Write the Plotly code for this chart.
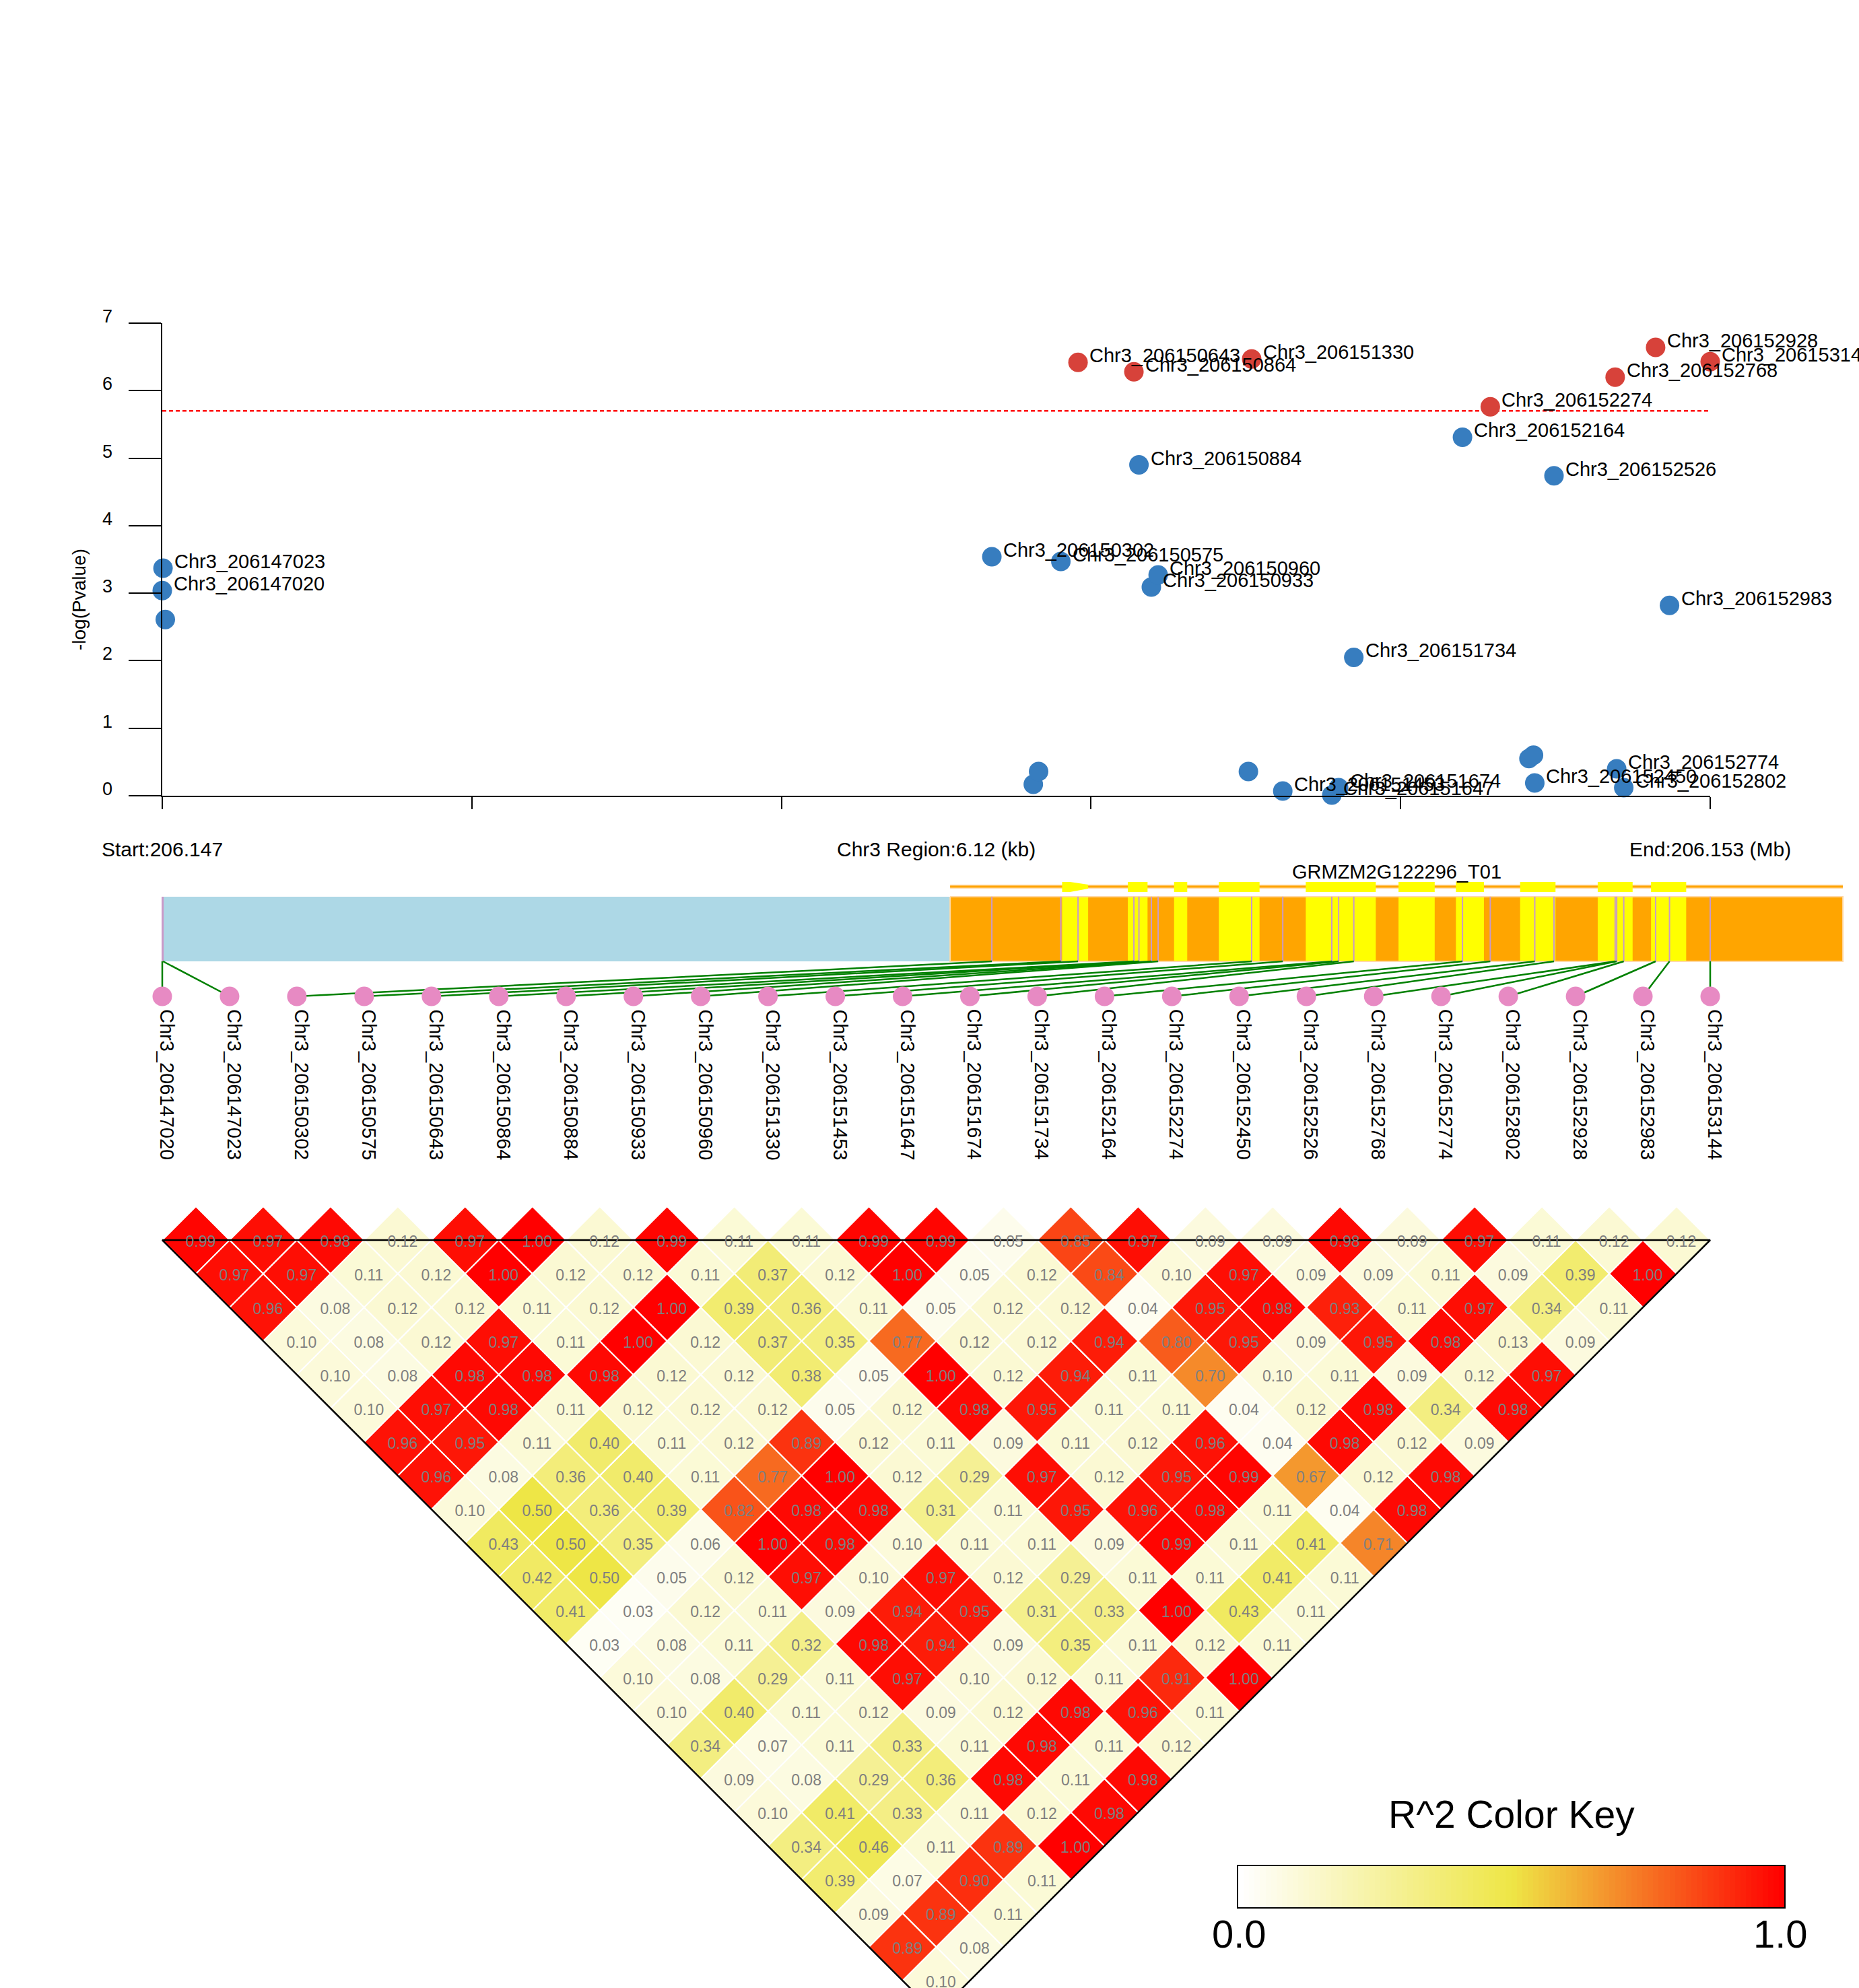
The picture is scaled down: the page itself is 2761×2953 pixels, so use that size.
import numpy as np
import plotly.graph_objects as go
from plotly.colors import sample_colorscale

W, H = 2761, 2953
FONT = "Liberation Sans, Arial, Helvetica, sans-serif"

# ---------------- data ----------------
CHROM = "Chr3"
REGION_START = 206147020
REGION_END = 206153144

GENE_NAME = "GRMZM2G122296_T01"
GENE_START = 206150137
GENE_END = 206153669
EXON_START = [206150580, 206150840, 206151023, 206151200, 206151544,
              206151911, 206152138, 206152392, 206152699, 206152910]
EXON_END = [206150683, 206150918, 206151075, 206151361, 206151821,
            206152054, 206152249, 206152532, 206152837, 206153049]

SNP_POS = [206147020, 206147023, 206150302, 206150575, 206150643, 206150864,
           206150884, 206150933, 206150960, 206151330, 206151453, 206151647,
           206151674, 206151734, 206152164, 206152274, 206152450, 206152526,
           206152768, 206152774, 206152802, 206152928, 206152983, 206153144]
SNP_LOGP = [3.04, 3.37, 3.54, 3.47, 6.42, 6.28,
            4.90, 3.09, 3.27, 6.47, 0.07, 0.01,
            0.12, 2.05, 5.31, 5.76, 0.19, 4.74,
            6.20, 0.40, 0.12, 6.64, 2.82, 6.43]
OTHER_POS = [206147032, 206150466, 206150487, 206151317, 206152427, 206152445]
OTHER_LOGP = [2.61, 0.17, 0.36, 0.36, 0.55, 0.60]
THRESHOLD = 5.70
Y_TICKS = [0, 1, 2, 3, 4, 5, 6, 7]

# pairwise r^2, row k = SNP distance k (k = 1..23), entry i = pair (i, i+k)
LD_BY_DISTANCE = [
    [0.99, 0.97, 0.98, 0.12, 0.97, 1.00, 0.12, 0.99, 0.11, 0.11, 0.99, 0.99, 0.05, 0.85, 0.97, 0.09, 0.09, 0.98, 0.09, 0.97, 0.11, 0.12, 0.12],
    [0.97, 0.97, 0.11, 0.12, 1.00, 0.12, 0.12, 0.11, 0.37, 0.12, 1.00, 0.05, 0.12, 0.84, 0.10, 0.97, 0.09, 0.09, 0.11, 0.09, 0.39, 1.00],
    [0.96, 0.08, 0.12, 0.12, 0.11, 0.12, 1.00, 0.39, 0.36, 0.11, 0.05, 0.12, 0.12, 0.04, 0.95, 0.98, 0.93, 0.11, 0.97, 0.34, 0.11],
    [0.10, 0.08, 0.12, 0.97, 0.11, 1.00, 0.12, 0.37, 0.35, 0.77, 0.12, 0.12, 0.94, 0.80, 0.95, 0.09, 0.95, 0.98, 0.13, 0.09],
    [0.10, 0.08, 0.98, 0.98, 0.98, 0.12, 0.12, 0.38, 0.05, 1.00, 0.12, 0.94, 0.11, 0.70, 0.10, 0.11, 0.09, 0.12, 0.97],
    [0.10, 0.97, 0.98, 0.11, 0.12, 0.12, 0.12, 0.05, 0.12, 0.98, 0.95, 0.11, 0.11, 0.04, 0.12, 0.98, 0.34, 0.98],
    [0.96, 0.95, 0.11, 0.40, 0.11, 0.12, 0.89, 0.12, 0.11, 0.09, 0.11, 0.12, 0.96, 0.04, 0.98, 0.12, 0.09],
    [0.96, 0.08, 0.36, 0.40, 0.11, 0.77, 1.00, 0.12, 0.29, 0.97, 0.12, 0.95, 0.99, 0.67, 0.12, 0.98],
    [0.10, 0.50, 0.36, 0.39, 0.82, 0.98, 0.98, 0.31, 0.11, 0.95, 0.96, 0.98, 0.11, 0.04, 0.98],
    [0.43, 0.50, 0.35, 0.06, 1.00, 0.98, 0.10, 0.11, 0.11, 0.09, 0.99, 0.11, 0.41, 0.71],
    [0.42, 0.50, 0.05, 0.12, 0.97, 0.10, 0.97, 0.12, 0.29, 0.11, 0.11, 0.41, 0.11],
    [0.41, 0.03, 0.12, 0.11, 0.09, 0.94, 0.95, 0.31, 0.33, 1.00, 0.43, 0.11],
    [0.03, 0.08, 0.11, 0.32, 0.98, 0.94, 0.09, 0.35, 0.11, 0.12, 0.11],
    [0.10, 0.08, 0.29, 0.11, 0.97, 0.10, 0.12, 0.11, 0.91, 1.00],
    [0.10, 0.40, 0.11, 0.12, 0.09, 0.12, 0.98, 0.96, 0.11],
    [0.34, 0.07, 0.11, 0.33, 0.11, 0.98, 0.11, 0.12],
    [0.09, 0.08, 0.29, 0.36, 0.98, 0.11, 0.98],
    [0.10, 0.41, 0.33, 0.11, 0.12, 0.98],
    [0.34, 0.46, 0.11, 0.89, 1.00],
    [0.39, 0.07, 0.90, 0.11],
    [0.09, 0.89, 0.11],
    [0.89, 0.08],
    [0.10],
]
KEY_LABELS = ["0.0", "1.0"]

R2_COLORSCALE = [[0.0, "rgb(255,255,255)"], [0.5, "rgb(238,230,70)"], [1.0, "rgb(255,0,0)"]]

# ---------------- layout constants (pixels from top) ----------------
def fy(y):
    """paper fraction for a pixel row"""
    return 1 - y / H

PLOT_L, PLOT_R = 241, 2540
SCAT_TOP, SCAT_BOT = 480, 1182
GENE_LABEL_Y = 1295
EXON_TOP, EXON_BOT, INTRON_Y = 1310, 1325, 1317
BAR_TOP, BAR_BOT = 1332, 1428
DOT_Y, LABEL_TOP = 1480, 1497
LD_TOP, ROW_H = 1842, 50
TEXT_Y = 1261
KEY_L, KEY_R, KEY_T, KEY_B = 1839, 2650, 2772, 2833

BLUE, RED = "#377DBF", "#D7423A"
N = len(SNP_POS)

ppb = (PLOT_R - PLOT_L) / (REGION_END - REGION_START)   # pixels per bp
ppi = (PLOT_R - PLOT_L) / (N - 1)                        # pixels per SNP index

fig = go.Figure()

# ---------- association scatter ----------
fig.add_trace(go.Scatter(
    x=[REGION_START, REGION_END], y=[THRESHOLD, THRESHOLD], mode="lines",
    line=dict(color="#FF0000", width=2.5, dash="6px,4px"),
    xaxis="x", yaxis="y", hoverinfo="skip"))

all_pos = SNP_POS + OTHER_POS
all_p = SNP_LOGP + OTHER_LOGP
fig.add_trace(go.Scatter(
    x=all_pos, y=all_p, mode="markers",
    marker=dict(size=29, color=[RED if p > THRESHOLD else BLUE for p in all_p], line=dict(width=0)),
    cliponaxis=False, xaxis="x", yaxis="y", hoverinfo="skip"))

annotations = []
for pos, p in zip(SNP_POS, SNP_LOGP):
    annotations.append(dict(
        x=pos, y=p, xref="x", yref="y", text=f"{CHROM}_{pos}", showarrow=False,
        xanchor="left", yanchor="middle", xshift=15, yshift=10,
        font=dict(size=29, color="black", family=FONT)))
# y tick labels (sit slightly above their tick marks)
for t in Y_TICKS:
    annotations.append(dict(
        x=REGION_START, y=t, xref="x", yref="y", text=str(t), showarrow=False,
        xanchor="right", yanchor="middle", xshift=-72, yshift=10,
        font=dict(size=27, color="black", family=FONT)))

# ---------- gene structure ----------
def rects(x0s, x1s, y0, y1):
    xs, ys = [], []
    for a, b in zip(x0s, x1s):
        xs += [a, b, b, a, a, None]
        ys += [y0, y0, y1, y1, y0, None]
    return xs, ys

bx, by = rects([REGION_START], [GENE_START], BAR_TOP, BAR_BOT)
fig.add_trace(go.Scatter(x=bx, y=by, mode="lines", fill="toself", fillcolor="#ADD8E6",
                         line=dict(width=0), xaxis="x2", yaxis="y2", hoverinfo="skip"))
ox, oy = rects([GENE_START], [GENE_END], BAR_TOP, BAR_BOT)
fig.add_trace(go.Scatter(x=ox, y=oy, mode="lines", fill="toself", fillcolor="#FFA500",
                         line=dict(width=2, color="#FFD9A6"), xaxis="x2", yaxis="y2", hoverinfo="skip"))
ex, ey = rects(EXON_START, EXON_END, BAR_TOP + 1, BAR_BOT - 1)
fig.add_trace(go.Scatter(x=ex, y=ey, mode="lines", fill="toself", fillcolor="#FFFF00",
                         line=dict(width=0), xaxis="x2", yaxis="y2", hoverinfo="skip"))
sx, sy = [], []
for pos in SNP_POS:
    sx += [pos, pos, None]
    sy += [BAR_TOP, BAR_BOT, None]
fig.add_trace(go.Scatter(x=sx, y=sy, mode="lines", line=dict(color="#C99AC9", width=2),
                         xaxis="x2", yaxis="y2", hoverinfo="skip"))
fig.add_trace(go.Scatter(x=[GENE_START, GENE_END], y=[INTRON_Y, INTRON_Y], mode="lines",
                         line=dict(color="#FFD9A6", width=6), xaxis="x2", yaxis="y2", hoverinfo="skip"))
fig.add_trace(go.Scatter(x=[GENE_START, GENE_END], y=[INTRON_Y, INTRON_Y], mode="lines",
                         line=dict(color="#FFA500", width=3), xaxis="x2", yaxis="y2", hoverinfo="skip"))
tx, ty = rects(EXON_START[1:], EXON_END[1:], EXON_TOP, EXON_BOT)
a0, a1 = EXON_START[0], EXON_END[0]
am = a0 + 0.3 * (a1 - a0)
tx += [a0, am, a1, a1, am, a0, a0, None]
ty += [EXON_TOP, EXON_TOP, INTRON_Y - 3, INTRON_Y + 3, EXON_BOT, EXON_BOT, EXON_TOP, None]
fig.add_trace(go.Scatter(x=tx, y=ty, mode="lines", fill="toself", fillcolor="#FFFF00",
                         line=dict(width=0), xaxis="x2", yaxis="y2", hoverinfo="skip"))
annotations.append(dict(x=(GENE_START + GENE_END) / 2, y=GENE_LABEL_Y, xref="x2", yref="y2",
                        text=GENE_NAME, showarrow=False, xanchor="center", yanchor="middle",
                        font=dict(size=29, color="black", family=FONT)))

step_bp = (REGION_END - REGION_START) / (N - 1)
gx, gy = [], []
for j, pos in enumerate(SNP_POS):
    gx += [pos, REGION_START + j * step_bp, None]
    gy += [BAR_BOT, DOT_Y, None]
fig.add_trace(go.Scatter(x=gx, y=gy, mode="lines", line=dict(color="#008000", width=2.5),
                         xaxis="x2", yaxis="y2", hoverinfo="skip"))
fig.add_trace(go.Scatter(x=list(range(N)), y=[DOT_Y] * N, mode="markers",
                         marker=dict(size=29, color="#E78AC3", line=dict(width=0)),
                         cliponaxis=False, xaxis="x3", yaxis="y2", hoverinfo="skip"))
for j, pos in enumerate(SNP_POS):
    annotations.append(dict(x=j, y=LABEL_TOP, xref="x3", yref="y2", text=f"{CHROM}_{pos}",
                            showarrow=False, textangle=90, xanchor="center", yanchor="top",
                            xshift=7, font=dict(size=29, color="black", family=FONT)))

# ---------- LD heatmap (diamonds) ----------
groups = {}
txt_x, txt_y, txt_s = [], [], []
for k, row in enumerate(LD_BY_DISTANCE, start=1):
    for i, v in enumerate(row):
        j = i + k
        cx = (i + j) / 2
        cy = LD_TOP + (k - 1) * ROW_H
        g = groups.setdefault(v, ([], []))
        g[0].extend([cx - 0.5, cx, cx + 0.5, cx, cx - 0.5, None])
        g[1].extend([cy, cy - ROW_H, cy, cy + ROW_H, cy, None])
        txt_x.append(cx + 0.07)
        txt_y.append(cy + 4)
        txt_s.append(f"{v:.2f}")

for v, (xs, ys) in sorted(groups.items()):
    col = sample_colorscale(R2_COLORSCALE, [v])[0]
    fig.add_trace(go.Scatter(x=xs, y=ys, mode="lines", fill="toself", fillcolor=col,
                             line=dict(color="white", width=2), xaxis="x3", yaxis="y2",
                             hoverinfo="skip"))

apex_x = (N - 1) / 2
apex_y = LD_TOP + (N - 1) * ROW_H
fig.add_trace(go.Scatter(x=[apex_x, 0, N - 1, apex_x], y=[apex_y, LD_TOP, LD_TOP, apex_y],
                         mode="lines", line=dict(color="black", width=2.5),
                         xaxis="x3", yaxis="y2", hoverinfo="skip"))
fig.add_trace(go.Scatter(x=txt_x, y=txt_y, text=txt_s, mode="text",
                         textfont=dict(size=23, color="#7F7F7F", family=FONT),
                         xaxis="x3", yaxis="y2", hoverinfo="skip", cliponaxis=True))

# ---------- colour key ----------
key_vals = np.linspace(0, 1, 100)
fig.add_trace(go.Heatmap(z=[key_vals], colorscale=R2_COLORSCALE, zmin=0, zmax=1,
                         showscale=False, xaxis="x4", yaxis="y4", hoverinfo="skip"))
annotations.append(dict(x=(KEY_L + KEY_R) / 2 / W, y=fy(2695), xref="paper", yref="paper",
                        text="R^2 Color Key", showarrow=False, xanchor="center", yanchor="middle",
                        font=dict(size=57, color="black", family=FONT)))
for lab, px in zip(KEY_LABELS, [KEY_L + 1, KEY_R - 6]):
    annotations.append(dict(x=px / W, y=fy(2872), xref="paper", yref="paper", text=lab,
                            showarrow=False, xanchor="center", yanchor="middle",
                            font=dict(size=58, color="black", family=FONT)))

# ---------- region texts ----------
region_texts = [
    (REGION_START, f"Start:{REGION_START / 1e6:.3f}"),
    ((REGION_START + REGION_END) / 2, f"{CHROM} Region:{(REGION_END - REGION_START) / 1000:.2f} (kb)"),
    (REGION_END, f"End:{REGION_END / 1e6:.3f} (Mb)"),
]
for x, t in region_texts:
    annotations.append(dict(x=x, y=TEXT_Y, xref="x", yref="y2", text=t, showarrow=False,
                            xanchor="center", yanchor="middle",
                            font=dict(size=30, color="black", family=FONT)))
annotations.append(dict(x=118 / W, y=fy(890), xref="paper", yref="paper", text="-log(Pvalue)",
                        showarrow=False, textangle=-90, xanchor="center", yanchor="middle",
                        font=dict(size=28, color="black", family=FONT)))

hidden = dict(visible=False, showgrid=False, zeroline=False)
fig.update_layout(
    width=W, height=H, margin=dict(l=0, r=0, t=0, b=0, pad=0),
    paper_bgcolor="white", plot_bgcolor="rgba(0,0,0,0)", showlegend=False,
    font=dict(family=FONT, color="black"),
    xaxis=dict(domain=[PLOT_L / W, PLOT_R / W], range=[REGION_START, REGION_END],
               showline=True, linecolor="black", linewidth=2, ticks="outside", ticklen=18,
               tickwidth=2, tickcolor="black",
               tickvals=list(np.linspace(REGION_START, REGION_END, 6)),
               showticklabels=False, showgrid=False, zeroline=False, anchor="y"),
    yaxis=dict(domain=[fy(SCAT_BOT), fy(SCAT_TOP)], range=[0, 7],
               showline=True, linecolor="black", linewidth=2, ticks="outside", ticklen=48,
               tickwidth=2, tickcolor="black", tickvals=Y_TICKS, showticklabels=False,
               showgrid=False, zeroline=False, anchor="x"),
    xaxis2=dict(domain=[0, 1], range=[REGION_START - PLOT_L / ppb, REGION_START + (W - PLOT_L) / ppb],
                anchor="y2", **hidden),
    yaxis2=dict(domain=[0, 1], range=[H, 0], anchor="x2", **hidden),
    xaxis3=dict(domain=[0, 1], range=[-PLOT_L / ppi, (W - PLOT_L) / ppi], anchor="y2", **hidden),
    xaxis4=dict(domain=[KEY_L / W, KEY_R / W], range=[-0.5, 99.5], anchor="y4",
                showline=True, mirror=True, linecolor="black", linewidth=2,
                showticklabels=False, ticks="", showgrid=False, zeroline=False),
    yaxis4=dict(domain=[fy(KEY_B), fy(KEY_T)], range=[-0.5, 0.5], anchor="x4",
                showline=True, mirror=True, linecolor="black", linewidth=2,
                showticklabels=False, ticks="", showgrid=False, zeroline=False),
    annotations=annotations,
)

fig.write_html("out.html")
